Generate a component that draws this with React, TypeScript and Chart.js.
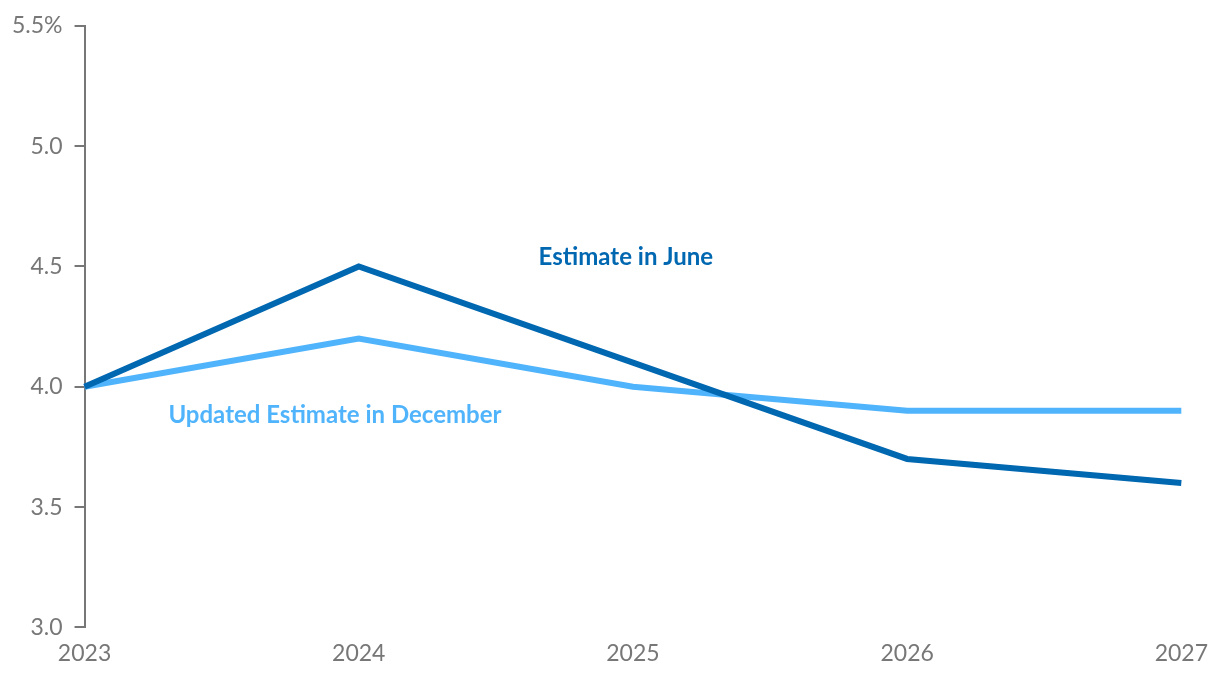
import React, { useEffect, useRef } from "react";
import { Chart, registerables } from "chart.js";

Chart.register(...registerables);

const years = ["2023", "2024", "2025", "2026", "2027"];
const juneEstimate = [4.0, 4.5, 4.1, 3.7, 3.6];
const decemberEstimate = [4.0, 4.2, 4.0, 3.9, 3.9];
const yTicks = [3.0, 3.5, 4.0, 4.5, 5.0, 5.5];

const juneColor = "#0067B1";
const decColor = "#50B4FC";
const axisColor = "#777777";

// label anchors in data coordinates (x index, y value)
const juneLabel = { text: "Estimate in June", x: 1.656, y: 4.54 };
const decLabel = { text: "Updated Estimate in December", x: 0.306, y: 3.88 };

const labelPlugin = {
  id: "seriesLabels",
  afterDatasetsDraw(chart: any) {
    const { ctx, scales } = chart;
    const xs = scales.x;
    const ys = scales.y;
    const draw = (l: { text: string; x: number; y: number }, color: string) => {
      const px = xs.left + (xs.right - xs.left) * (l.x / (years.length - 1));
      const py = ys.getPixelForValue(l.y);
      ctx.save();
      ctx.font = "bold 24px Lato";
      ctx.fillStyle = color;
      ctx.textAlign = "left";
      ctx.textBaseline = "middle";
      ctx.fillText(l.text, px, py);
      ctx.restore();
    };
    draw(juneLabel, juneColor);
    draw(decLabel, decColor);
  },
};

export default function App() {
  const ref = useRef<HTMLCanvasElement>(null);
  useEffect(() => {
    if (!ref.current) return;
    const chart = new Chart(ref.current, {
      type: "line",
      data: {
        labels: years,
        datasets: [
          {
            label: "Estimate in June",
            data: juneEstimate,
            borderColor: juneColor,
            borderWidth: 6,
            pointRadius: 0,
            tension: 0,
          },
          {
            label: "Updated Estimate in December",
            data: decemberEstimate,
            borderColor: decColor,
            borderWidth: 6,
            pointRadius: 0,
            tension: 0,
          },
        ],
      },
      options: {
        animation: false,
        responsive: true,
        maintainAspectRatio: false,
        layout: { padding: { left: 0, right: 2, top: 14, bottom: -1 } },
        plugins: { legend: { display: false }, tooltip: { enabled: false } },
        scales: {
          x: {
            offset: false,
            grid: { display: false, drawTicks: false },
            border: { display: false },
            ticks: {
              color: axisColor,
              font: { family: "Lato", size: 23 },
              padding: 12,
              maxRotation: 0,
            },
          },
          y: {
            min: 3,
            max: 5.5,
            afterBuildTicks: (axis: any) => {
              axis.ticks = yTicks.map((v) => ({ value: v }));
            },
            grid: {
              drawOnChartArea: false,
              drawTicks: true,
              tickLength: 10,
              color: axisColor,
              lineWidth: 2,
            },
            border: { display: true, color: axisColor, width: 2 },
            ticks: {
              color: axisColor,
              font: { family: "Lato", size: 23 },
              padding: 12,
              callback: (v: any) => (Number(v) === 5.5 ? "5.5%" : Number(v).toFixed(1)),
            },
          },
        },
      },
      plugins: [labelPlugin],
    });
    return () => chart.destroy();
  }, []);
  return (
    <div style={{ position: "fixed", left: 0, top: 0, width: 1220, height: 678, background: "#fff" }}>
      <canvas ref={ref} />
    </div>
  );
}
